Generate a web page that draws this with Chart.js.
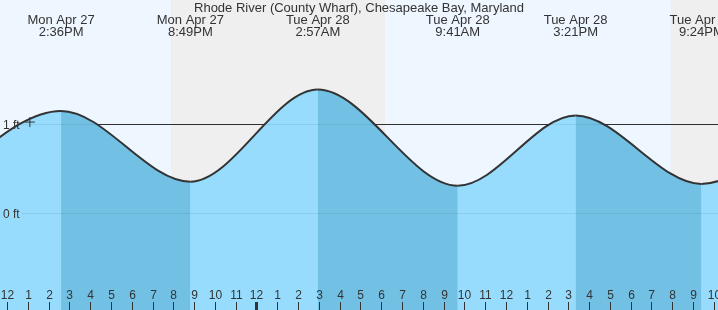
<!DOCTYPE html>
<html>
<head>
<meta charset="utf-8">
<script src="https://cdn.jsdelivr.net/npm/chart.js@4.4.1/dist/chart.umd.min.js"></script>
<style>
  html, body { margin: 0; padding: 0; background: #eef7ff; }
  canvas { display: block; }
</style>
</head>
<body>
<canvas id="tideChart" width="718" height="310"></canvas>
<script>
const chartTitle = "Rhode River (County Wharf), Chesapeake Bay, Maryland";

// hours counted from noon, Mon Apr 27; first and last points sit off screen
const tideHours = [-3.6, 2.6, 8.82, 14.95, 21.68, 27.35, 33.4, 39.7];
const tideFeet = [0.30, 1.15, 0.355, 1.39, 0.31, 1.10, 0.33, 1.35];
const tideDays = [null, "Mon Apr 27", "Mon Apr 27", "Tue Apr 28", "Tue Apr 28", "Tue Apr 28", "Tue Apr 28", null];
const tideClock = [null, "2:36PM", "8:49PM", "2:57AM", "9:41AM", "3:21PM", "9:24PM", null];

const nightStarts = [7.89, 31.93];
const nightEnds = [18.18, 42.2];

// one label per hour, starting at noon
const hourLabels = ["12", "1", "2", "3", "4", "5", "6", "7", "8", "9", "10", "11",
    "12", "1", "2", "3", "4", "5", "6", "7", "8", "9", "10", "11",
    "12", "1", "2", "3", "4", "5", "6", "7", "8", "9", "10"];
const midnightHour = 12;

const levelTicks = [0, 1];
const levelLabels = ["0 ft", "1 ft"];

const nowHour = [1.1];
const nowFeet = [1.025];

const FONT = "'Liberation Sans', Arial, sans-serif";
const TEXT = "#333";
const WATER = "#97dcfd";
const EBB = "#72c1e5";

const tidePoints = tideHours.map((h, i) => ({ x: h, y: tideFeet[i] }));

const decor = {
    id: "decor",
    beforeDraw(chart) {
        const { ctx, scales: { x, y } } = chart;
        ctx.save();
        ctx.fillStyle = "#eef7ff";
        ctx.fillRect(0, 0, chart.width, chart.height);
        ctx.fillStyle = "#efefef";
        nightStarts.forEach((s, i) => {
            const x0 = x.getPixelForValue(s);
            const x1 = x.getPixelForValue(nightEnds[i]);
            ctx.fillRect(x0, 0, x1 - x0, chart.height);
        });
        // the 1 ft line runs behind the water
        const y1 = Math.round(y.getPixelForValue(1)) + 0.5;
        ctx.strokeStyle = "#333";
        ctx.lineWidth = 1;
        ctx.beginPath();
        ctx.moveTo(21, y1);
        ctx.lineTo(chart.width, y1);
        ctx.stroke();
        ctx.restore();
    },
    beforeDatasetDraw(chart, args) {
        if (args.index !== 0) return;
        const { ctx, scales: { y } } = chart;
        ctx.save();
        ctx.strokeStyle = "rgba(0,0,0,0.07)";
        ctx.lineWidth = 1;
        levelTicks.forEach(v => {
            const py = Math.round(y.getPixelForValue(v)) + 0.5;
            ctx.beginPath();
            ctx.moveTo(22, py);
            ctx.lineTo(chart.width, py);
            ctx.stroke();
        });
        ctx.restore();
    },
    afterDraw(chart) {
        const { ctx, scales: { x, y } } = chart;
        ctx.save();
        ctx.fillStyle = TEXT;
        ctx.textBaseline = "alphabetic";

        ctx.textAlign = "center";
        ctx.font = "13px " + FONT;
        ctx.fillText(chartTitle, chart.width / 2, 12);
        tideHours.forEach((h, i) => {
            if (!tideDays[i]) return;
            const px = x.getPixelForValue(h);
            ctx.fillText(tideDays[i], px, 24);
            ctx.fillText(tideClock[i], px, 36);
        });

        ctx.font = "12px " + FONT;
        hourLabels.forEach((lab, h) => {
            const px = Math.round(x.getPixelForValue(h));
            if (h === midnightHour) ctx.fillRect(px - 1, 302, 3, 8);
            else ctx.fillRect(px, 302, 1, 8);
            ctx.fillText(lab, px + 0.5, 299);
        });

        ctx.textAlign = "left";
        levelTicks.forEach((v, i) => {
            ctx.fillText(levelLabels[i], 3, y.getPixelForValue(v) + 4.5);
        });
        ctx.restore();
    }
};

new Chart(document.getElementById("tideChart"), {
    type: "line",
    data: {
        datasets: [{
            // falling tide shaded darker, drawn over the plain water
            data: tidePoints,
            borderColor: "#333",
            borderWidth: 2,
            backgroundColor: "transparent",
            fill: "start",
            cubicInterpolationMode: "monotone",
            pointRadius: 0,
            order: 1,
            segment: {
                backgroundColor: c => c.p1.parsed.y < c.p0.parsed.y ? EBB : "transparent",
            },
        }, {
            data: tidePoints,
            borderWidth: 0,
            backgroundColor: WATER,
            fill: "start",
            cubicInterpolationMode: "monotone",
            pointRadius: 0,
            order: 2,
        }, {
            data: nowHour.map((h, i) => ({ x: h, y: nowFeet[i] })),
            showLine: false,
            pointStyle: "cross",
            pointRadius: 5,
            borderColor: "#333",
            borderWidth: 1,
            order: 0,
        }]
    },
    options: {
        responsive: false,
        animation: false,
        devicePixelRatio: 1,
        layout: { padding: 0, autoPadding: false },
        plugins: {
            legend: { display: false },
            tooltip: { enabled: false },
        },
        scales: {
            x: { type: "linear", min: -0.337, max: 34.2, display: false },
            y: { min: -1.087, max: 2.397, display: false },
        },
    },
    plugins: [decor],
});
</script>
</body>
</html>
